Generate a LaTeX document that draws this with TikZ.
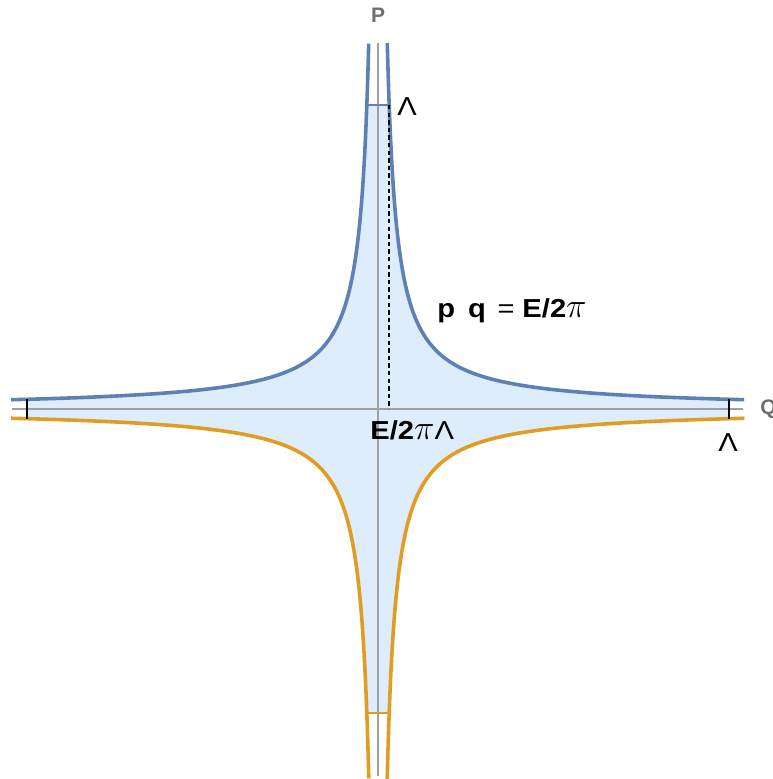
\documentclass[tikz,border=0pt]{standalone}
\usepackage{fontspec}
\setmainfont{Liberation Sans}
\newfontfamily\lblfont[FakeStretch=1.12]{Liberation Sans}
\definecolor{curveblue}{RGB}{94,129,181}
\definecolor{curveorange}{RGB}{225,156,36}
\definecolor{areafill}{RGB}{222,237,252}
\definecolor{axisgray}{RGB}{160,160,160}
\definecolor{labelgray}{RGB}{110,110,110}
\usetikzlibrary{positioning}
\newcommand{\hypc}{3400}
\newcommand{\bigpi}{{\fontsize{17}{17}\selectfont$\pi$}}

\begin{document}
\begin{tikzpicture}[x=0.5pt,y=0.5pt]
  \tikzstyle{axisline}=[draw=axisgray,line width=0.65pt]
  \tikzstyle{upper}=[draw=curveblue,line width=1.8pt]
  \tikzstyle{lower}=[draw=curveorange,line width=1.8pt]
  \tikzstyle{cutoff}=[draw=black,line width=1.1pt]
  \tikzstyle{lbl}=[inner sep=0pt,font=\lblfont\fontsize{13}{15}\selectfont]
  \tikzstyle{axislbl}=[inner sep=0pt,text=labelgray,font=\bfseries\fontsize{10.5}{12}\selectfont]
  \useasboundingbox (-378,-370) rectangle (394,409);
  \fill[areafill] plot[domain=5.8608:2.4145,samples=120] ({-exp(\x)},{\hypc/exp(\x)})
    -- plot[domain=2.4145:5.8608,samples=120] ({exp(\x)},{\hypc/exp(\x)})
    -- plot[domain=5.8608:2.4145,samples=120] ({exp(\x)},{-\hypc/exp(\x)})
    -- plot[domain=2.4145:5.8608,samples=120] ({-exp(\x)},{-\hypc/exp(\x)}) -- cycle;
  \coordinate (ptop) at (0,366);
  \coordinate (pbot) at (0,-367);
  \coordinate (qleft) at (-366,0);
  \coordinate (qright) at (365,0);
  \path[axisline] (ptop) -- (pbot);
  \path[axisline] (qleft) -- (qright);
  \path[upper] plot[domain=5.905:2.229,samples=150] ({-exp(\x)},{\hypc/exp(\x)});
  \path[upper] plot[domain=2.229:5.905,samples=150] ({exp(\x)},{\hypc/exp(\x)});
  \path[lower] plot[domain=5.905:2.218,samples=150] ({-exp(\x)},{-\hypc/exp(\x)});
  \path[lower] plot[domain=2.218:5.905,samples=150] ({exp(\x)},{-\hypc/exp(\x)});
  \coordinate (tl) at (-11.18,304);
  \coordinate (tr) at (11.18,304);
  \coordinate (bl) at (-11.18,-304);
  \coordinate (br) at (11.18,-304);
  \coordinate (lu) at (-351,9.69);
  \coordinate (ld) at (-351,-9.69);
  \coordinate (ru) at (351,9.69);
  \coordinate (rd) at (351,-9.69);
  \coordinate (foot) at (11.18,0);
  \path[upper,line width=1.1pt] (tl) -- (tr);
  \path[lower,line width=1.1pt] (bl) -- (br);
  \path[cutoff] (lu) -- (ld);
  \path[cutoff] (ru) -- (rd);
  \draw[line width=1.1pt,dash pattern=on 2.2pt off 1.6pt] (tr) -- (foot);
  \node[axislbl,anchor=base] (plbl) at (0,386) {P};
  \node[axislbl,anchor=base west] (qlbl) at (382,-6) {Q};
  \node[lbl,anchor=base west] (lamtop) at (19,293) {Λ};
  \node[lbl,anchor=base] (lamright) at (350,-43) {Λ};
  \node[lbl,anchor=base west] (width) at (-8,-31) {\textbf{E/2}\bigpi Λ};
  \node[lbl,anchor=base west] (eqn) at (59,91) {\textbf{p}\hspace{0.5em}\textbf{q}\hspace{0.45em}=\hspace{0.3em}\textbf{E/2}\bigpi};
\end{tikzpicture}
\end{document}
